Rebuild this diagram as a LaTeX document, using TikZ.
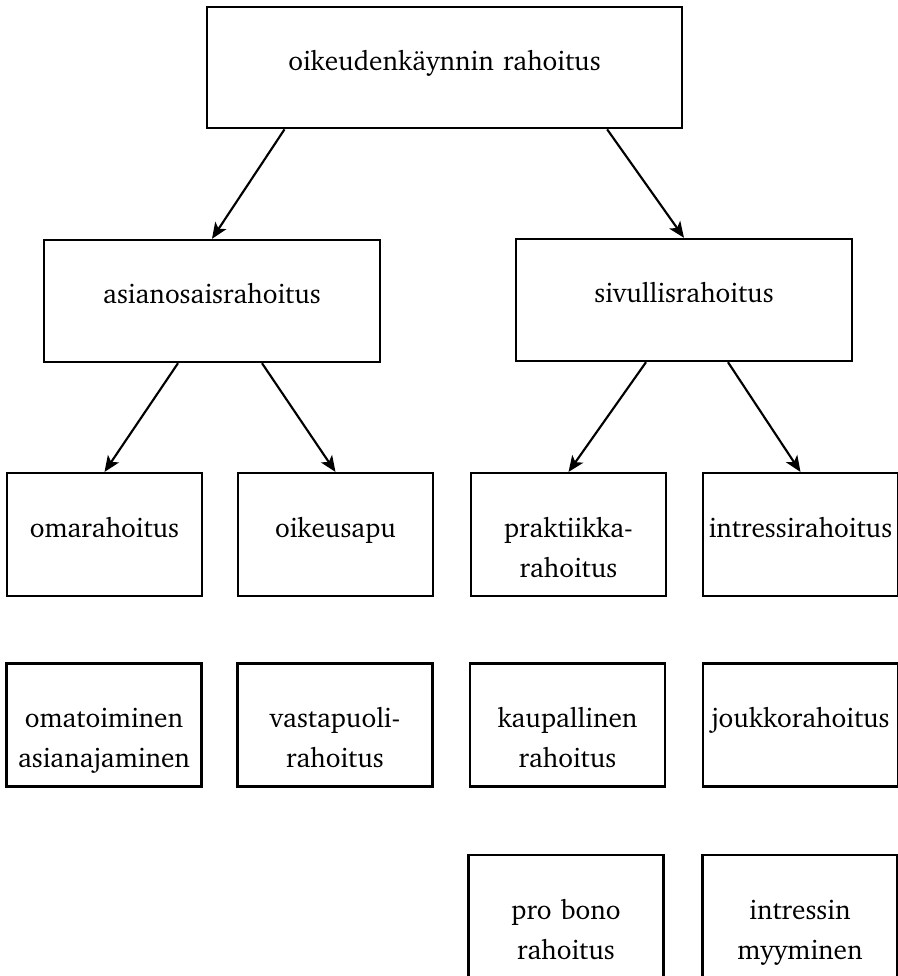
\documentclass[tikz,border=0pt]{standalone}
\usepackage[T1]{fontenc}
\usepackage{charter}
\usetikzlibrary{arrows.meta}
\begin{document}
\begin{tikzpicture}[x=0.75pt, y=-0.75pt,
  box/.style={rectangle, draw, line width=1.8pt, text width=144pt, align=center,
    inner xsep=1pt, text height=13pt, text depth=9pt,
    minimum width=146pt, minimum height=92pt,
    font=\fontsize{20.5}{30}\selectfont},
  mainbox/.style={box, minimum width=356pt, minimum height=91pt, text width=340pt},
  midbox/.style={box, minimum width=252pt, minimum height=91.5pt, text width=240pt},
  arr/.style={-{Stealth[length=12pt, width=10pt, inset=3pt]}, line width=1.6pt}
]
\useasboundingbox (0,0) rectangle (898,976);
\node[mainbox] (rahoitus) at (444.5,67.5) {oikeudenk\"aynnin rahoitus};
\node[midbox] (asianosais) at (212,301) {asianosaisrahoitus};
\node[midbox] (sivullis) at (684,300) {sivullisrahoitus};
% alatasot
\node[box] (oma) at (104.5,534.5) {omarahoitus};
\node[box] (oikeusapu) at (335.5,534.5) {oikeusapu};
\node[box] (praktiikka) at (568.5,534.5) {praktiikka-\\rahoitus};
\node[box] (intressi) at (800.5,534.5) {intressirahoitus};
\node[box] (omatoim) at (104,725) {omatoiminen\\asianajaminen};
\node[box] (vastapuoli) at (335,725) {vastapuoli-\\rahoitus};
\node[box] (kaupallinen) at (567.5,725) {kaupallinen\\rahoitus};
\node[box] (joukko) at (800.5,725) {joukkorahoitus};
\node[box] (probono) at (566,916.5) {pro bono\\rahoitus};
\node[box] (myynti) at (800,916.5) {intressin\\myyminen};
% nuolet
\draw[arr] ([xshift=-120pt]rahoitus.south) -- (asianosais.north);
\draw[arr] ([xshift=122pt]rahoitus.south) -- (sivullis.north);
\draw[arr] ([xshift=-25.5pt]asianosais.south) -- (oma.north);
\draw[arr] ([xshift=37.5pt]asianosais.south) -- (oikeusapu.north);
\draw[arr] ([xshift=-28.5pt]sivullis.south) -- (praktiikka.north);
\draw[arr] ([xshift=33pt]sivullis.south) -- (intressi.north);
\end{tikzpicture}
\end{document}
